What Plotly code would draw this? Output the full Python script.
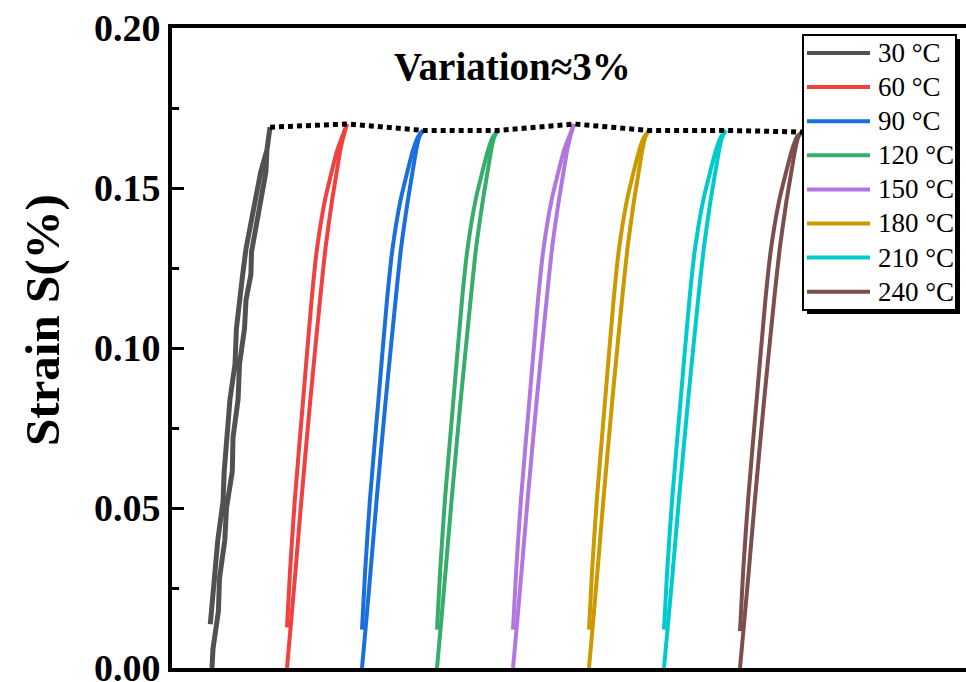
import plotly.graph_objects as go

# ---------------- data (x in arbitrary field units, S in %) ----------------
temps = ["30 °C", "60 °C", "90 °C", "120 °C", "150 °C", "180 °C", "210 °C", "240 °C"]
colors = ["#515151", "#F14040", "#1A6FDF", "#37AD6B", "#B177DE", "#CC9900", "#00CBCC", "#7D4E4E"]

x_30 = [4.0, 4.1, 4.64, 4.75, 5.28, 5.45, 6.03, 6.1, 6.61, 6.75, 7.25, 7.4, 7.89, 7.95, 8.41, 8.9, 9.39, 9.5, 9.8,
        9.5, 8.87, 8.3, 7.77, 7.4, 7.07, 6.44, 6.3, 5.8, 5.22, 5.1, 4.58, 4.0, 3.83]
s_30 = [0, 0.006, 0.0177, 0.028, 0.040, 0.050, 0.0615, 0.072, 0.084, 0.095, 0.106, 0.115, 0.123, 0.130, 0.138, 0.147, 0.155, 0.162, 0.169,
        0.162, 0.155, 0.146, 0.138, 0.131, 0.123, 0.106, 0.095, 0.084, 0.0615, 0.052, 0.040, 0.0177, 0.0137]

x_60 = [11.5, 11.86, 12.34, 12.94, 13.84, 14.8, 15.34, 16.0, 16.42, 16.84, 17.14, 17.5,
        17.02, 16.54, 15.88, 15.28, 14.5, 13.96, 13.12, 12.28, 11.8, 11.5]
s_60 = [0, 0.0127, 0.030, 0.0525, 0.084, 0.115, 0.131, 0.146, 0.154, 0.162, 0.166, 0.170,
        0.166, 0.162, 0.154, 0.146, 0.131, 0.115, 0.084, 0.0525, 0.030, 0.0127]

x_90 = [19.0, 19.37, 19.85, 20.46, 21.38, 22.36, 22.9, 23.58, 24.0, 24.43, 24.73, 25.1,
        24.61, 24.12, 23.45, 22.84, 22.05, 21.5, 20.65, 19.79, 19.31, 19.0]
s_90 = [0, 0.0127, 0.030, 0.0525, 0.084, 0.115, 0.131, 0.146, 0.154, 0.162, 0.166, 0.168,
        0.166, 0.162, 0.154, 0.146, 0.131, 0.115, 0.084, 0.0525, 0.030, 0.012]

x_120 = [26.5, 26.87, 27.35, 27.96, 28.88, 29.86, 30.4, 31.08, 31.5, 31.93, 32.23, 32.6,
         32.11, 31.62, 30.95, 30.34, 29.55, 29.0, 28.15, 27.29, 26.81, 26.5]
s_120 = [0, 0.0127, 0.030, 0.0525, 0.084, 0.115, 0.131, 0.146, 0.154, 0.162, 0.166, 0.168,
         0.166, 0.162, 0.154, 0.146, 0.131, 0.115, 0.084, 0.0525, 0.030, 0.012]

x_150 = [34.1, 34.47, 34.95, 35.56, 36.48, 37.46, 38.0, 38.68, 39.1, 39.53, 39.83, 40.2,
         39.71, 39.22, 38.55, 37.94, 37.15, 36.6, 35.75, 34.89, 34.41, 34.1]
s_150 = [0, 0.0127, 0.030, 0.0525, 0.084, 0.115, 0.131, 0.146, 0.154, 0.162, 0.166, 0.170,
         0.166, 0.162, 0.154, 0.146, 0.131, 0.115, 0.084, 0.0525, 0.030, 0.012]

x_180 = [41.7, 42.06, 42.54, 43.14, 44.04, 45.0, 45.54, 46.2, 46.62, 47.04, 47.34, 47.7,
         47.22, 46.74, 46.08, 45.48, 44.7, 44.16, 43.32, 42.48, 42.0, 41.7]
s_180 = [0, 0.0127, 0.030, 0.0525, 0.084, 0.115, 0.131, 0.146, 0.154, 0.162, 0.166, 0.168,
         0.166, 0.162, 0.154, 0.146, 0.131, 0.115, 0.084, 0.0525, 0.030, 0.012]

x_210 = [49.2, 49.57, 50.07, 50.69, 51.62, 52.61, 53.17, 53.85, 54.28, 54.72, 55.03, 55.4,
         54.9, 54.41, 53.73, 53.11, 52.3, 51.74, 50.87, 50.01, 49.51, 49.2]
s_210 = [0, 0.0127, 0.030, 0.0525, 0.084, 0.115, 0.131, 0.146, 0.154, 0.162, 0.166, 0.168,
         0.166, 0.162, 0.154, 0.146, 0.131, 0.115, 0.084, 0.0525, 0.030, 0.012]

x_240 = [56.8, 57.17, 57.67, 58.29, 59.22, 60.21, 60.77, 61.45, 61.88, 62.32, 62.63, 63.0,
         62.5, 62.01, 61.33, 60.71, 59.9, 59.34, 58.47, 57.61, 57.11, 56.8]
s_240 = [0, 0.0127, 0.030, 0.0525, 0.084, 0.115, 0.131, 0.146, 0.154, 0.162, 0.166, 0.1675,
         0.166, 0.162, 0.154, 0.146, 0.131, 0.115, 0.084, 0.0525, 0.030, 0.0115]

peak_x = [9.8, 17.5, 25.1, 32.6, 40.2, 47.7, 55.4, 63.0]
peak_s = [0.169, 0.170, 0.168, 0.168, 0.170, 0.168, 0.168, 0.1675]

yticks = [0.00, 0.05, 0.10, 0.15, 0.20]
ytick_text = ["0.00", "0.05", "0.10", "0.15", "0.20"]

xs = [x_30, x_60, x_90, x_120, x_150, x_180, x_210, x_240]
ss = [s_30, s_60, s_90, s_120, s_150, s_180, s_210, s_240]

SERIF = "Times New Roman, Liberation Serif, serif"

fig = go.Figure()
for i, (name, c) in enumerate(zip(temps, colors)):
    xv, sv = xs[i], ss[i]
    k = sv.index(max(sv))
    if i == 0:
        fig.add_trace(go.Scatter(x=xv, y=sv, mode="lines", name=name, showlegend=False,
                                 line=dict(color=c, width=5)))
    else:
        for seg in (slice(0, k + 1), slice(k, None)):
            fig.add_trace(go.Scatter(x=xv[seg], y=sv[seg], mode="lines", name=name, showlegend=False,
                                     line=dict(color=c, width=4, shape="spline", smoothing=0.6)))

fig.add_trace(go.Scatter(
    x=peak_x, y=peak_s, mode="lines", showlegend=False,
    line=dict(color="black", width=5, dash="5px,4px")))

# plot area geometry (pixels) for layout helpers
W, H = 966, 682
L, R, T, B = 172, 0, 28, 14
PW, PH = W - L - R, H - T - B


def px(xp):
    return (xp - L) / PW


def py(yp):
    return (H - B - yp) / PH


shapes = []
annotations = []

# custom legend box with shadow
bx0, by0, bx1, by1 = 803, 35, 956, 310
shapes.append(dict(type="rect", xref="paper", yref="paper",
                   x0=px(bx0 + 4), x1=px(bx1 + 4), y0=py(by1 + 4), y1=py(by0 + 4),
                   fillcolor="black", line=dict(width=0), layer="above"))
shapes.append(dict(type="rect", xref="paper", yref="paper",
                   x0=px(bx0), x1=px(bx1), y0=py(by1), y1=py(by0),
                   fillcolor="white", line=dict(color="black", width=2), layer="above"))
for i, (name, c) in enumerate(zip(temps, colors)):
    yc = 53 + i * 34.1
    shapes.append(dict(type="line", xref="paper", yref="paper",
                       x0=px(807), x1=px(870), y0=py(yc), y1=py(yc),
                       line=dict(color=c, width=4), layer="above"))
    annotations.append(dict(xref="paper", yref="paper", x=px(876), y=py(yc),
                            xanchor="left", yanchor="middle", text=name, showarrow=False,
                            font=dict(family=SERIF, size=27, color="black")))

annotations.append(dict(xref="paper", yref="paper", x=px(512), y=py(67),
                        xanchor="center", yanchor="middle", text="Variation≈3%", showarrow=False,
                        font=dict(family=SERIF, size=39, color="black", weight="bold")))

annotations.append(dict(xref="paper", yref="paper", x=px(42), y=py(320),
                        xanchor="center", yanchor="middle", text="Strain S(%)", textangle=-90,
                        showarrow=False,
                        font=dict(family=SERIF, size=49, color="black", weight="bold")))

fig.update_layout(
    width=W, height=H,
    margin=dict(l=L, r=R, t=T, b=B, autoexpand=False),
    paper_bgcolor="white", plot_bgcolor="white",
    shapes=shapes, annotations=annotations,
    xaxis=dict(range=[0, PW / 10], showline=True, linewidth=4, linecolor="black", mirror=True,
               showticklabels=False, ticks="", showgrid=False, zeroline=False, automargin=False),
    yaxis=dict(range=[0, 0.2], tickvals=yticks, ticktext=ytick_text,
               ticks="inside", ticklen=12, tickwidth=3, tickcolor="black",
               minor=dict(ticks="inside", ticklen=7, tickwidth=3, tickcolor="black", dtick=0.025, showgrid=False),
               showline=True, linewidth=4, linecolor="black", mirror=True,
               showgrid=False, zeroline=False, ticklabeloverflow="allow", automargin=False,
               tickfont=dict(family=SERIF, size=38, color="black", weight="bold")),
)

fig.write_html("out.html")
